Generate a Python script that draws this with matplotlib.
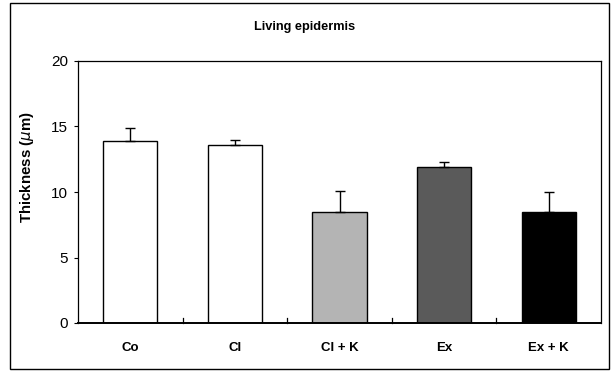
import numpy as np
import matplotlib

matplotlib.use("Agg")
import matplotlib.pyplot as plt
from matplotlib.patches import Rectangle

plt.rcParams["font.family"] = ["Liberation Sans", "DejaVu Sans"]

categories = ["Co", "Cl", "Cl + K", "Ex", "Ex + K"]
means = [13.9, 13.6, 8.45, 11.9, 8.5]
errors = [1.0, 0.4, 1.6, 0.4, 1.5]
colors = ["white", "white", "#b4b4b4", "#5a5a5a", "black"]

fig = plt.figure(figsize=(6.13, 3.72), dpi=100)
ax = fig.add_axes([78 / 613, 49 / 372, 523 / 613, 262 / 372])

x = np.arange(len(categories))
ax.bar(x, means, width=0.52, color=colors, edgecolor="black", linewidth=1.0,
       yerr=[np.zeros(len(errors)), errors], capsize=3.5,
       error_kw=dict(ecolor="black", elinewidth=1.0, capthick=1.0))

ax.set_xlim(-0.5, len(categories) - 0.5)
ax.set_ylim(0, 20)
ax.set_yticks([0, 5, 10, 15, 20])
ax.tick_params(axis="y", direction="out", length=3, width=0.8, labelsize=11, pad=4)

ax.set_xticks(x)
ax.set_xticklabels(categories, fontsize=9.5, fontweight="bold")
ax.tick_params(axis="x", length=0, pad=14)
# small upward ticks between categories
for b in np.arange(0.5, len(categories) - 1, 1.0):
    ax.plot([b, b], [0, 0.35], color="black", lw=0.9, clip_on=False)

ax.set_ylabel("Thickness ($\\mu$m)", fontsize=10.8, fontweight="bold")
ax.yaxis.set_label_coords(-0.080, 0.595)
for s in ax.spines.values():
    s.set_linewidth(0.9)
ax.spines["bottom"].set_linewidth(1.4)

fig.text(0.497, 1 - 27 / 372, "Living epidermis", ha="center", va="center",
         fontsize=9.2, fontweight="bold")

fig.patches.append(Rectangle((10 / 613, 3 / 372), 599 / 613, 366 / 372,
                             transform=fig.transFigure, fill=False,
                             edgecolor="black", linewidth=1.0))

fig.savefig("out.png", dpi=100)
